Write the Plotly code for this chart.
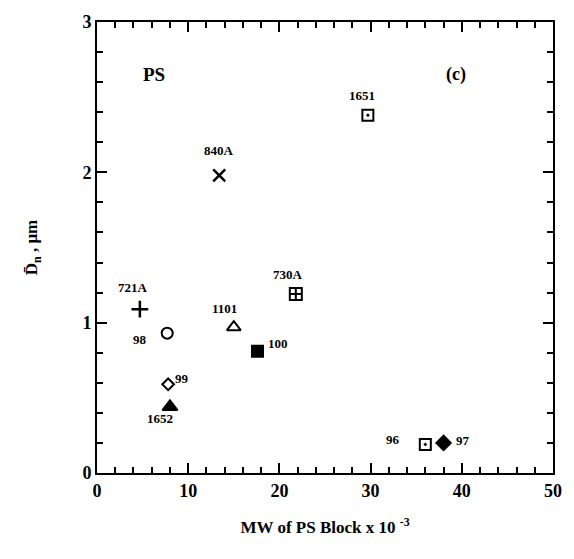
import plotly.graph_objects as go

# Data
names = ["721A", "98", "99", "1652", "1101", "100", "730A", "840A", "1651", "96", "97"]
mw = [4.7, 7.7, 7.8, 8.0, 15.0, 17.6, 21.8, 13.4, 29.7, 36.0, 38.0]
dn = [1.09, 0.93, 0.59, 0.44, 0.97, 0.81, 1.19, 1.98, 2.38, 0.19, 0.20]

# Styles
symbols = ["cross-thin-open", "circle-open", "diamond-open", "triangle-up", "triangle-up-open",
           "square", "square-cross-open", "x-thin-open", "square-open-dot", "square-open-dot", "diamond"]
msizes = [12, 11, 9, 13, 12, 11, 12, 12, 11, 11, 11]
# label pixel offsets (dx, dy)
label_off = [(-7, 22), (-27, -6), (14, 6), (-10, -12), (-9, 19), (20, 8),
             (-8, 20), (0, 25), (-6, 20), (-32, 5), (19, 2)]

FONT = "Liberation Serif"

fig = go.Figure()
for i, n in enumerate(names):
    sym = symbols[i]
    lw = 2.5 if "thin" in sym else 2
    fig.add_trace(go.Scatter(
        x=[mw[i]], y=[dn[i]], mode="markers", name=n, showlegend=False,
        marker=dict(symbol=sym, size=msizes[i], color="black",
                    line=dict(color="black", width=lw)),
    ))
    fig.add_annotation(x=mw[i], y=dn[i], text=f"<b>{n}</b>", showarrow=False,
                       xshift=label_off[i][0], yshift=label_off[i][1],
                       font=dict(family=FONT, size=13, color="black"))

fig.add_annotation(x=6.3, y=2.65, text="<b>PS</b>", showarrow=False,
                   font=dict(family=FONT, size=19, color="black"))
fig.add_annotation(x=39.4, y=2.65, text="<b>(c)</b>", showarrow=False,
                   font=dict(family=FONT, size=18, color="black"))

fig.update_xaxes(range=[0, 50], dtick=10,
                 showline=True, linecolor="black", linewidth=2,
                 mirror="ticks", ticks="inside", ticklen=10, tickwidth=2, tickcolor="black",
                 tickfont=dict(family=FONT, size=18, color="black", weight="bold"),
                 minor=dict(dtick=2, ticks="inside", ticklen=6, tickcolor="black", tickwidth=2),
                 title=dict(text="<b>MW of PS Block x 10 <sup>-3</sup></b>",
                            font=dict(family=FONT, size=17, color="black"), standoff=22))
fig.update_yaxes(range=[0, 3], dtick=1,
                 showline=True, linecolor="black", linewidth=2,
                 mirror="ticks", ticks="inside", ticklen=10, tickwidth=2, tickcolor="black",
                 tickfont=dict(family=FONT, size=18, color="black", weight="bold"),
                 minor=dict(dtick=0.2, ticks="inside", ticklen=6, tickcolor="black", tickwidth=2),
                 title=dict(text="<b>D\u0304<sub>n</sub> , \u03bcm</b>",
                            font=dict(family=FONT, size=17, color="black"), standoff=40))

fig.update_layout(
    width=574, height=559,
    margin=dict(l=97, r=16, t=20, b=86),
    plot_bgcolor="white", paper_bgcolor="white",
)

fig.write_html("out.html")
